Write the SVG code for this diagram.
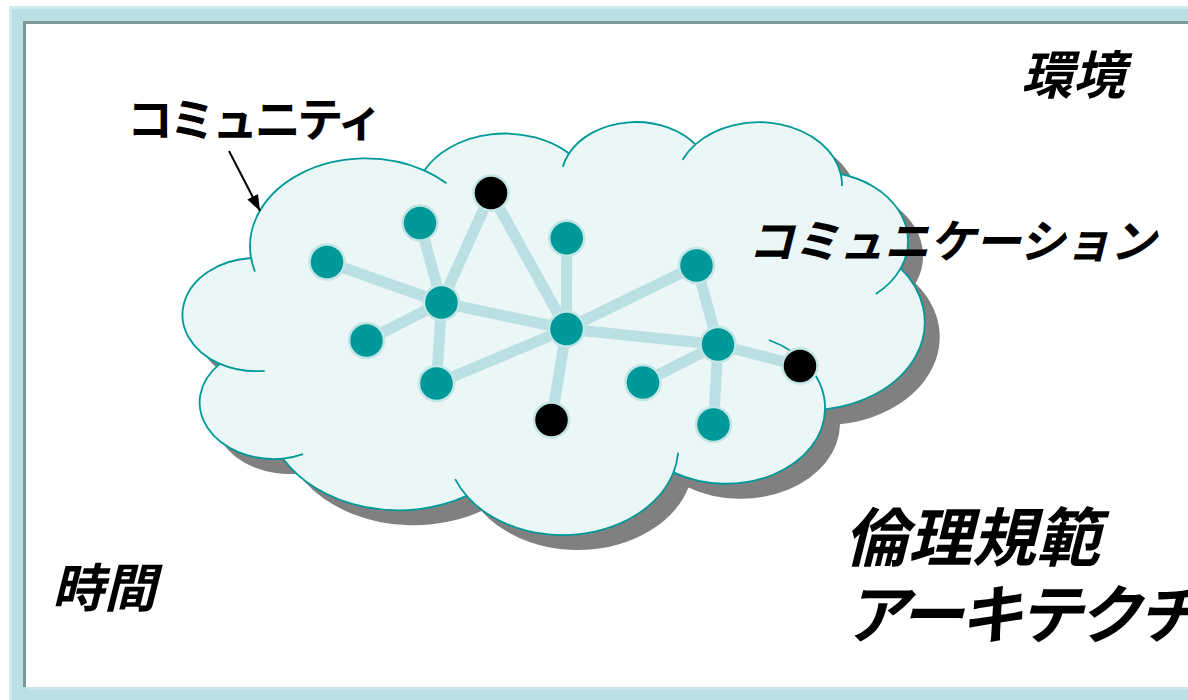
<svg xmlns="http://www.w3.org/2000/svg" xmlns:xlink="http://www.w3.org/1999/xlink" width="1188" height="700" viewBox="0 0 1188 700">
<defs>
<style>
.cloud{fill:#EBF6F6;stroke:#009999;stroke-width:1.8}
.inner{fill:none;stroke:#009999;stroke-width:1.8}
.edge{stroke:#BBE0E3;stroke-width:11}
.n{fill:#009999;stroke:#C2E5E5;stroke-width:2.5}
.b{fill:#000000;stroke:#C2E5E5;stroke-width:2.5}
.t{font-family:"Noto Sans CJK JP","Noto Sans CJK SC",sans-serif;font-weight:bold;fill:#000000}
.i{font-style:italic}
</style>
<path id="cloudShape" d="M251.1,258 A115.68,87.82 0 0 1 424.2,170.4 A91.35,69.44 0 0 1 569,153.5 A74.77,56.81 0 0 1 695.4,144.4 A83.2,63.02 0 0 1 840.7,174 A91.35,69.5 0 0 1 900.7,268.4 A116.05,88.1 0 0 1 825,409.3 A99.1,75.17 0 0 1 673.5,472.4 A115.66,88.05 0 0 1 466.6,495.9 A132.24,100.75 0 0 1 283.1,458.7 A74.68,56.55 0 0 1 219.8,363.9 A74.43,56.81 0 0 1 251.1,258 Z"/>
<marker id="ah" markerUnits="userSpaceOnUse" markerWidth="17" markerHeight="13" refX="16" refY="6" orient="auto">
<path d="M0,0 L16,6 L0,12 z" fill="#000000"/>
</marker>
</defs>

<g id="frame">
<rect x="9" y="6" width="1190" height="700" fill="#BBE0E3"/>
<rect x="9" y="6" width="1190" height="3" fill="#D2EBED"/>
<rect x="9" y="6" width="3" height="700" fill="#D2EBED"/>
<rect x="23" y="21" width="1170" height="666" fill="#7C9898"/>
<rect x="26" y="24" width="1170" height="663" fill="#FFFFFF"/>
<rect x="26" y="687" width="1170" height="3" fill="#C9E7EA"/>
</g>

<g id="cloud">
<use xlink:href="#cloudShape" href="#cloudShape" transform="translate(15,15)" fill="#808080"/>
<use xlink:href="#cloudShape" href="#cloudShape" class="cloud"/>
<path class="inner" d="M264.7,370.8 A74.43,56.81 0 0 1 219.8,363.9 M303,454.2 A74.68,56.55 0 0 1 283.1,458.7 M466.6,495.9 A115.66,88.05 0 0 1 455.2,479.2 M678.1,452.8 A115.66,88.05 0 0 1 673.5,472.4 M768.9,340 A99.1,75.17 0 0 1 825,409.3 M900.7,268.4 A91.35,69.5 0 0 1 875.8,294 M840.7,174 A83.2,63.02 0 0 1 842,186.1 M682.6,159.8 A83.2,63.02 0 0 1 695.4,144.4 M562.8,166.8 A74.77,56.81 0 0 1 569,153.5 M424.2,170.4 A115.68,87.82 0 0 1 446.5,183.3 M255,271.6 A115.68,87.82 0 0 1 251.1,258"/>
</g>

<g id="connectors">
<line class="edge" x1="327" y1="262" x2="441.5" y2="302.5"/>
<line class="edge" x1="420" y1="223" x2="441.5" y2="302.5"/>
<line class="edge" x1="491" y1="193" x2="441.5" y2="302.5"/>
<line class="edge" x1="366.5" y1="340.5" x2="441.5" y2="302.5"/>
<line class="edge" x1="436.5" y1="383.5" x2="441.5" y2="302.5"/>
<line class="edge" x1="441.5" y1="302.5" x2="566.5" y2="329"/>
<line class="edge" x1="491" y1="193" x2="566.5" y2="329"/>
<line class="edge" x1="436.5" y1="383.5" x2="566.5" y2="329"/>
<line class="edge" x1="566.7" y1="238.3" x2="566.5" y2="329"/>
<line class="edge" x1="551.5" y1="420" x2="566.5" y2="329"/>
<line class="edge" x1="696.5" y1="265.5" x2="566.5" y2="329"/>
<line class="edge" x1="718" y1="344.5" x2="566.5" y2="329"/>
<line class="edge" x1="696.5" y1="265.5" x2="718" y2="344.5"/>
<line class="edge" x1="800" y1="366" x2="718" y2="344.5"/>
<line class="edge" x1="643" y1="382.5" x2="718" y2="344.5"/>
<line class="edge" x1="713.5" y1="424.5" x2="718" y2="344.5"/>
<line x1="229" y1="151" x2="260" y2="211" stroke="#000000" stroke-width="2" marker-end="url(#ah)"/>
</g>

<g id="node-1"><circle class="n" cx="327" cy="262" r="17.5"/></g>
<g id="node-2"><circle class="n" cx="420" cy="223" r="17.5"/></g>
<g id="node-3"><circle class="n" cx="441.5" cy="302.5" r="17.5"/></g>
<g id="node-4"><circle class="n" cx="366.5" cy="340.5" r="17.5"/></g>
<g id="node-5"><circle class="n" cx="436.5" cy="383.5" r="17.5"/></g>
<g id="node-6"><circle class="n" cx="566.7" cy="238.3" r="17.5"/></g>
<g id="node-7"><circle class="n" cx="566.5" cy="329" r="17.5"/></g>
<g id="node-8"><circle class="n" cx="696.5" cy="265.5" r="17.5"/></g>
<g id="node-9"><circle class="n" cx="718" cy="344.5" r="17.5"/></g>
<g id="node-10"><circle class="n" cx="643" cy="382.5" r="17.5"/></g>
<g id="node-11"><circle class="n" cx="713.5" cy="424.5" r="17.5"/></g>
<g id="node-b1"><circle class="b" cx="491" cy="193" r="17.5"/></g>
<g id="node-b2"><circle class="b" cx="551.5" cy="420" r="17.5"/></g>
<g id="node-b3"><circle class="b" cx="800" cy="366" r="17.5"/></g>

<g id="label-community"><text class="t" x="127" y="136" font-size="46" textLength="256" lengthAdjust="spacing">コミュニティ</text></g>
<g id="label-environment"><text class="t i" x="1021" y="93.5" font-size="52">環境</text></g>
<g id="label-time"><text class="t i" x="52" y="606.5" font-size="52">時間</text></g>
<g id="label-communication"><text class="t i" x="748" y="257.5" font-size="46" textLength="408" lengthAdjust="spacing">コミュニケーション</text></g>
<g id="label-ethics">
<text class="t i" x="844" y="561" font-size="64">倫理規範</text>
<text class="t i" x="844" y="637.5" font-size="64" textLength="357" lengthAdjust="spacing">アーキテクチ</text>
</g>
</svg>
